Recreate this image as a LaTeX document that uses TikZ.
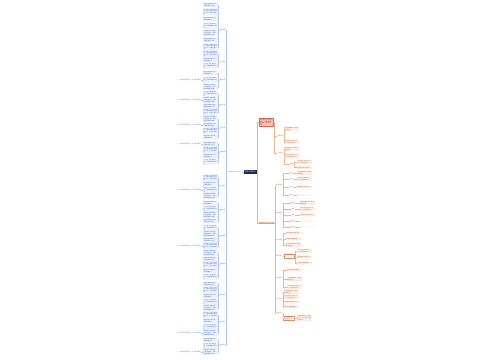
\documentclass[tikz,border=0pt]{standalone}
\usepackage{fontspec}
\usetikzlibrary{positioning}
\newfontfamily\cjk{Noto Sans CJK SC}
\XeTeXlinebreaklocale "zh"
\XeTeXlinebreakskip = 0pt plus 1pt

\definecolor{navy}{HTML}{1B2A5C}
\definecolor{bluetxt}{HTML}{3D6FD6}
\definecolor{blueln}{HTML}{AFC6EC}
\definecolor{bluefill}{HTML}{EEF3FC}
\definecolor{redtxt}{HTML}{D0602E}
\definecolor{redln}{HTML}{F2B48C}
\definecolor{redfill}{HTML}{FDF1EA}
\definecolor{pinkfill}{HTML}{F6C3BC}
\definecolor{pinkdraw}{HTML}{E06058}
\definecolor{orfill}{HTML}{F0A05A}

\newcommand\leaftxt[1]{\ifcase#1%
  认真学习新课程标准，转变教育教学观念\or
  加强教学常规管理，认真备好每一节课，提高课堂教学效率\or
  积极开展教研活动，不断提高业务水平\or
  关注每一位学生的成长，做好后进生的转化工作，促进全面发展\or
  做好家校沟通工作，形成教育合力\fi}
\newcommand\rtxt[1]{\ifcase#1%
  落实各项规章制度\or
  抓好课堂教学，提高教学质量\or
  开展丰富多彩的活动，培养学生能力\or
  做好检查与总结工作\fi}

\tikzset{
  txt/.style={font=\cjk\fontsize{4}{4.5}\selectfont},
  rootbox/.style={font=\cjk\fontsize{5}{6}\selectfont, fill=navy, text=white, inner xsep=1.2mm, inner ysep=1.1mm},
  headL/.style={font=\cjk\fontsize{3.8}{4.4}\selectfont, text=bluetxt, inner sep=0.4mm},
  labL/.style={txt, text=bluetxt, inner sep=0.4mm},
  leafL/.style={txt, text=bluetxt, fill=bluefill, draw=blueln!50, line width=0.1mm, rounded corners=0.3mm, inner sep=0.35mm, text width=14mm, align=left},
  subL/.style={txt, text=bluetxt, inner sep=0.35mm},
  lnL/.style={blueln, line width=0.35mm},
  pinkbox/.style={txt, fill=pinkfill, draw=pinkdraw, line width=0.25mm, text=redtxt!80!black, inner sep=0.9mm, text width=12mm, align=left},
  orbox/.style={txt, fill=orfill, text=white, inner xsep=0.9mm, inner ysep=0.6mm},
  labR/.style={txt, text=redtxt, inner sep=0.4mm},
  leafR/.style={txt, text=redtxt, fill=redfill, draw=redln!50, line width=0.1mm, rounded corners=0.3mm, inner sep=0.35mm, text width=14mm, align=left},
  boxR/.style={txt, text=redtxt, draw=redtxt!70, fill=orange!8, line width=0.2mm, inner sep=0.4mm, text width=10mm, align=left},
  lnR/.style={redln, line width=0.35mm}
}

\begin{document}
\begin{tikzpicture}[x=1mm,y=-1mm]
    % Canvas
    \useasboundingbox (0,0) rectangle (500,360);
    \fill[white] (0,0) rectangle (500,360);

    % Root and first level
    \node[rootbox, anchor=west] (R) at (243.5,172) {学校工作计划};
    \node[headL, anchor=east] (L0) at (241.5,172) {学校年度工作计划范文};
    \draw[lnL] (R.west) -- (L0.east);
    \node[pinkbox, anchor=west] (P) at (259,122.5) {以立德树人为根本任务，全面推进素质教育，提升办学品质};
    \node[orbox, anchor=west] (O) at (259,223) {二、主要工作及措施};
    \draw[lnR] (R.east) -- ++(1,0) |- (P.west);
    \draw[lnR] (R.east) -- ++(1,0) |- (O.west);

    % Left side groups and leaves
    \foreach \g/\gy/\glab/\ys in {
        1/30/指导思想/{5,12,19,26,33,40,47},
        2/62/工作目标/{54,60,66},
        3/80/教学工作/{73,80,87},
        4/105/德育工作/{94,100,106,112},
        5/128/安全工作/{119,125,131,137},
        6/152/常规管理/{144,150,156,162},
        7/186/队伍建设/{178,184,190,196},
        8/210/教研工作/{203,209,215,221},
        9/236/后勤保障/{228,234,240,246},
        10/264/家校合作/{253,259,265,271,277},
        11/295/特色活动/{284,290,296,302,308},
        12/322/考核评价/{315,321,327,333},
        13/345/具体安排/{340,346,352}}{
      \node[labL, anchor=east] (g\g) at (226,\gy) {\glab};
      \draw[lnL] (L0.west) -- ++(-1,0) |- (g\g.east);
      \foreach \y [count=\k] in \ys {
        \pgfmathtruncatemacro\vv{mod(\g+\k,5)}
        \node[leafL, anchor=east] (lf\g-\k) at (218,\y) {\leaftxt{\vv}};
        \draw[lnL] (g\g.west) -- ++(-0.8,0) |- (lf\g-\k.east);
      }
    }

    % Long items left of some leaves
    \foreach \g/\k in {3/2, 4/2, 5/2, 6/1, 7/3, 9/4, 12/4, 13/3}{
      \node[subL, anchor=east] (sub\g-\k) at ([xshift=-2mm]lf\g-\k.west) {（一）严格执行课程计划，开齐开足课程};
      \draw[lnL] (lf\g-\k.west) -- (sub\g-\k.east);
    }

    % Right side: first branch
    \node[labR, anchor=west] (PA) at (277,136) {主要目标};
    \node[labR, anchor=west] (PB) at (277,153) {工作重点};
    \foreach \n in {PA,PB} \draw[lnR] (P.east) -- ++(1.5,0) |- (\n.west);
    \node[labR, anchor=west] (PC) at (290,164) {要求};
    \draw[lnR] (PB.east) -- ++(1,0) |- (PC.west);

    % Right side: second branch
    \foreach \n/\y/\lab in {O1/185/教学管理, O2/213/德育管理, O3/240/安全管理, O4/256/教研活动, O5/278/后勤服务, O6/299/队伍建设, O7/313/其他工作}{
      \node[labR, anchor=west] (\n) at (276,\y) {\lab};
      \draw[lnR] (O.east) -- ++(1.5,0) |- (\n.west);
    }
    \foreach \y [count=\k] in {173,179,187,195}{
      \node[labR, anchor=west] (O1s\k) at (289,\y) {要求};
      \node[leafR, anchor=west] (O1l\k) at (297,\y) {\rtxt{\k}};
      \draw[lnR] (O1.east) -- ++(1,0) |- (O1s\k.west);
      \draw[lnR] (O1s\k.east) -- (O1l\k.west);
    }
    \foreach \y [count=\k] in {203,209,215,221,227}{
      \node[labR, anchor=west] (O2s\k) at (291,\y) {措施};
      \node[leafR, anchor=west] (O2l\k) at (300,\y) {\rtxt{\k}};
      \draw[lnR] (O2.east) -- ++(1,0) |- (O2s\k.west);
      \draw[lnR] (O2s\k.east) -- (O2l\k.west);
    }
    \node[boxR, anchor=west] (O4b) at (283.5,256) {开展校本教研活动};
    \draw[lnR] (O4.east) -- (O4b.west);
    \node[boxR, anchor=west] (O7b) at (283,318) {做好学期工作总结与考核评比};
    \node[leafR, anchor=west, draw=redtxt!60, text width=13mm] (O7c) at (297,318) {认真总结经验，查找不足，为下学期工作做好准备};
    \draw[lnR] (O7.east) -- ++(0.8,0) |- (O7b.west);
    \draw[lnR] (O7b.east) -- (O7c.west);

    % Right side leaves
    \foreach \p/\x/\ys in {PA/284/{129,142}, PB/284/{149,156}, PC/297/{162,167.5},
        O3/286/{233,239,245}, O4b/297/{251,257,263}, O5/287/{270,279,287}, O6/284/{292,297,302,307}}{
      \foreach \y [count=\k] in \ys {
        \pgfmathtruncatemacro\vv{mod(\k+\x,4)}
        \node[leafR, anchor=west] (\p-\k) at (\x,\y) {\rtxt{\vv}};
        \draw[lnR] (\p.east) -- ++(0.8,0) |- (\p-\k.west);
      }
    }
\end{tikzpicture}
\end{document}
